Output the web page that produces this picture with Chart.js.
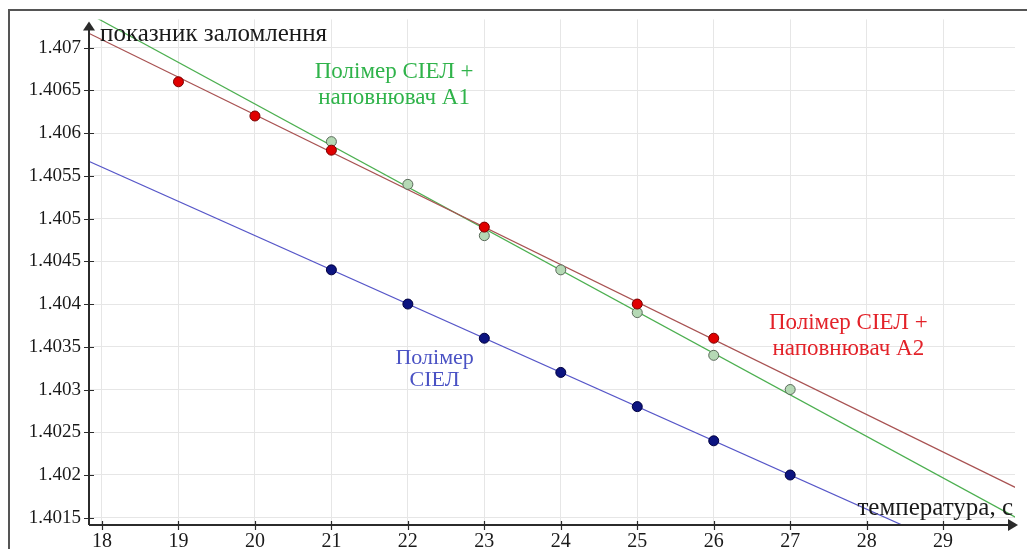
<!DOCTYPE html>
<html>
<head>
<meta charset="utf-8">
<script src="https://cdn.jsdelivr.net/npm/chart.js@4.4.1/dist/chart.umd.min.js"></script>
<style>
  html, body { margin: 0; padding: 0; background: #ffffff; }
  #wrap { width: 1027px; height: 549px; }
</style>
</head>
<body>
<div id="wrap"><canvas id="chart" width="1027" height="549"></canvas></div>
<script>
// Axis tick values
const temperatureTicks = [18, 19, 20, 21, 22, 23, 24, 25, 26, 27, 28, 29];
const indexTicks = [1.4015, 1.402, 1.4025, 1.403, 1.4035, 1.404, 1.4045, 1.405, 1.4055, 1.406, 1.4065, 1.407];

// Measured points: polymer with filler A2
const tempA2 = [19, 20, 21, 23, 25, 26];
const indexA2 = [1.4066, 1.4062, 1.4058, 1.4049, 1.4040, 1.4036];

// Measured points: polymer with filler A1
const tempA1 = [21, 22, 23, 24, 25, 26, 27];
const indexA1 = [1.4059, 1.4054, 1.4048, 1.4044, 1.4039, 1.4034, 1.4030];

// Measured points: base polymer
const tempBase = [21, 22, 23, 24, 25, 26, 27];
const indexBase = [1.4044, 1.4040, 1.4036, 1.4032, 1.4028, 1.4024, 1.4020];

// Trend line end points (temperature, index)
const trendTemp = [17.8, 30];
const trendA2 = [1.40718, 1.40183];
const trendA1 = [1.40741, 1.40148];
const trendBase = [1.40568, 1.40080];

// Series captions
const captionA1 = ['Полімер СІЕЛ +', 'наповнювач А1'];
const captionA2 = ['Полімер СІЕЛ +', 'наповнювач А2'];
const captionBase = ['Полімер', 'СІЕЛ'];
const yTitle = 'показник заломлення';
const xTitle = 'температура, с';

const pts = (xs, ys) => xs.map((x, i) => ({ x: x, y: ys[i] }));

const SERIF = '"Liberation Serif", "Times New Roman", serif';
const AXIS = '#2b2b2b';

const decorations = {
  id: 'decorations',
  beforeDraw(chart) {
    const ctx = chart.ctx;
    ctx.save();
    ctx.fillStyle = '#ffffff';
    ctx.fillRect(0, 0, chart.width, chart.height);
    ctx.restore();
  },
  afterDatasetsDraw(chart) {
    const ctx = chart.ctx;
    const a = chart.chartArea;
    const xs = chart.scales.x, ys = chart.scales.y;
    ctx.save();

    // outer frame
    ctx.strokeStyle = '#555555';
    ctx.lineWidth = 2;
    ctx.beginPath();
    ctx.moveTo(9, chart.height);
    ctx.lineTo(9, 10);
    ctx.lineTo(chart.width, 10);
    ctx.stroke();

    // axes
    ctx.strokeStyle = AXIS;
    ctx.fillStyle = AXIS;
    ctx.lineWidth = 2;
    ctx.beginPath();
    ctx.moveTo(a.left, a.bottom);
    ctx.lineTo(a.left, a.top + 8);
    ctx.moveTo(a.left, a.bottom);
    ctx.lineTo(a.right - 4, a.bottom);
    ctx.stroke();
    // arrow heads
    ctx.beginPath();
    ctx.moveTo(a.left, a.top + 2);
    ctx.lineTo(a.left - 6, a.top + 11);
    ctx.lineTo(a.left + 6, a.top + 11);
    ctx.closePath();
    ctx.fill();
    ctx.beginPath();
    ctx.moveTo(a.right + 3, a.bottom);
    ctx.lineTo(a.right - 7, a.bottom - 6);
    ctx.lineTo(a.right - 7, a.bottom + 6);
    ctx.closePath();
    ctx.fill();

    // tick marks
    ctx.lineWidth = 1.2;
    ctx.beginPath();
    indexTicks.forEach(v => {
      const y = Math.round(ys.getPixelForValue(v)) + 0.5;
      ctx.moveTo(a.left - 5, y);
      ctx.lineTo(a.left + 5, y);
    });
    temperatureTicks.forEach(v => {
      const x = Math.round(xs.getPixelForValue(v)) + 0.5;
      ctx.moveTo(x, a.bottom - 4);
      ctx.lineTo(x, a.bottom + 5);
    });
    ctx.stroke();

    // axis titles
    ctx.fillStyle = '#1a1a1a';
    ctx.font = '25px ' + SERIF;
    ctx.textBaseline = 'alphabetic';
    ctx.textAlign = 'left';
    ctx.fillText(yTitle, a.left + 11, a.top + 22);
    ctx.textAlign = 'right';
    ctx.fillText(xTitle, a.right - 2, a.bottom - 10);

    // series captions
    const caption = (lines, tx, ty, color, gap, size) => {
      ctx.font = size + 'px ' + SERIF;
      ctx.fillStyle = color;
      ctx.textAlign = 'center';
      ctx.textBaseline = 'middle';
      const cx = xs.getPixelForValue(tx);
      const cy = ys.getPixelForValue(ty);
      lines.forEach((t, i) => ctx.fillText(t, cx, cy + i * gap));
    };
    caption(captionA1, 21.82, 1.40671, '#2fb34a', 26, 23);
    caption(captionA2, 27.76, 1.40378, '#e32229', 26, 23);
    caption(captionBase, 22.35, 1.40337, '#4a52c4', 22, 22);

    ctx.restore();
  }
};

new Chart(document.getElementById('chart'), {
  type: 'scatter',
  data: {
    datasets: [
      {
        label: 'A2',
        data: pts(tempA2, indexA2),
        pointRadius: 5,
        pointBackgroundColor: '#e00000',
        pointBorderColor: '#7a0000',
        pointBorderWidth: 1,
        showLine: false,
        order: 1
      },
      {
        label: 'A1',
        data: pts(tempA1, indexA1),
        pointRadius: 5,
        pointBackgroundColor: '#b5d9b5',
        pointBorderColor: '#5a6a5a',
        pointBorderWidth: 1,
        showLine: false,
        order: 2
      },
      {
        label: 'base',
        data: pts(tempBase, indexBase),
        pointRadius: 5,
        pointBackgroundColor: '#0c1480',
        pointBorderColor: '#000040',
        pointBorderWidth: 1,
        showLine: false,
        order: 3
      },
      {
        label: 'A2 trend',
        data: pts(trendTemp, trendA2),
        showLine: true,
        pointRadius: 0,
        borderColor: '#a85252',
        borderWidth: 1.2,
        order: 4
      },
      {
        label: 'A1 trend',
        data: pts(trendTemp, trendA1),
        showLine: true,
        pointRadius: 0,
        borderColor: '#4caf50',
        borderWidth: 1.2,
        order: 5
      },
      {
        label: 'base trend',
        data: pts(trendTemp, trendBase),
        showLine: true,
        pointRadius: 0,
        borderColor: '#5656c8',
        borderWidth: 1.2,
        order: 6
      }
    ]
  },
  options: {
    responsive: false,
    animation: false,
    layout: { padding: { top: 15, right: 12, left: 0, bottom: 0 } },
    plugins: {
      legend: { display: false },
      tooltip: { enabled: false }
    },
    scales: {
      x: {
        type: 'linear',
        min: 17.83,
        max: 29.94,
        afterBuildTicks: axis => { axis.ticks = temperatureTicks.map(v => ({ value: v })); },
        afterFit: scale => { scale.height = 24; },
        border: { display: false },
        grid: { color: '#e6e6e6', lineWidth: 1, drawTicks: false },
        ticks: {
          padding: 5,
          color: '#1a1a1a',
          font: { family: SERIF, size: 20 },
          maxRotation: 0,
          autoSkip: false,
          callback: v => String(v)
        }
      },
      y: {
        type: 'linear',
        min: 1.401415,
        max: 1.40733,
        afterBuildTicks: axis => { axis.ticks = indexTicks.map(v => ({ value: v })); },
        afterFit: scale => { scale.width = 89; },
        border: { display: false },
        grid: { color: '#e6e6e6', lineWidth: 1, drawTicks: false },
        ticks: {
          padding: 8,
          color: '#1a1a1a',
          font: { family: SERIF, size: 19 },
          autoSkip: false,
          callback: v => String(parseFloat(v.toFixed(4)))
        }
      }
    }
  },
  plugins: [decorations]
});
</script>
</body>
</html>
